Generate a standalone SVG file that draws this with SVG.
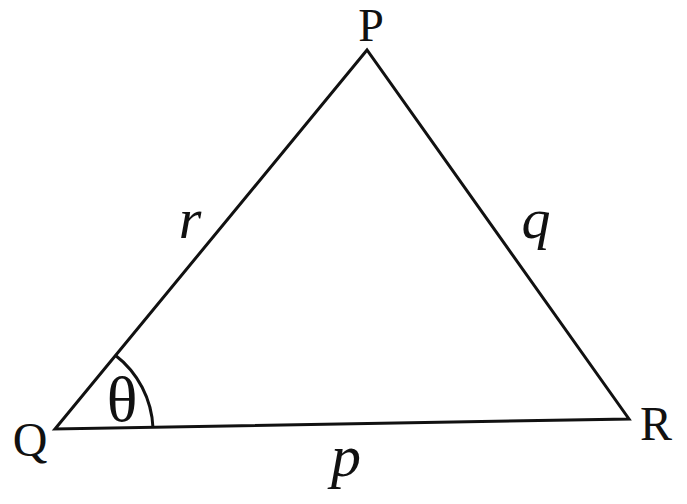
<svg xmlns="http://www.w3.org/2000/svg" width="687" height="504" viewBox="0 0 687 504">
<style>
.edge{fill:none;stroke:#111;stroke-width:3;stroke-linejoin:miter}
.lbl{font-family:"Liberation Serif",serif;fill:#111;text-anchor:middle}
.var{font-family:"Liberation Serif",serif;font-style:italic;fill:#111;text-anchor:middle}
</style>
<rect width="687" height="504" fill="#fff"/>
<g id="connectors">
<path class="edge" d="M55,429 L367,50 L629,419 Z"/>
<path class="edge" d="M115,355 A97,97 0 0 1 153,428"/>
</g>
<g id="P"><text class="lbl" x="371" y="41" font-size="46">P</text></g>
<g id="Q"><text class="lbl" x="30" y="456" font-size="48">Q</text></g>
<g id="R"><text class="lbl" x="656" y="440" font-size="48">R</text></g>
<g id="r"><text class="var" x="190" y="238" font-size="58">r</text></g>
<g id="q"><text class="var" x="536" y="238" font-size="58">q</text></g>
<g id="p"><text class="var" x="346" y="476" font-size="60">p</text></g>
<g id="theta"><text class="lbl" x="122" y="421" font-size="64">θ</text></g>
</svg>
